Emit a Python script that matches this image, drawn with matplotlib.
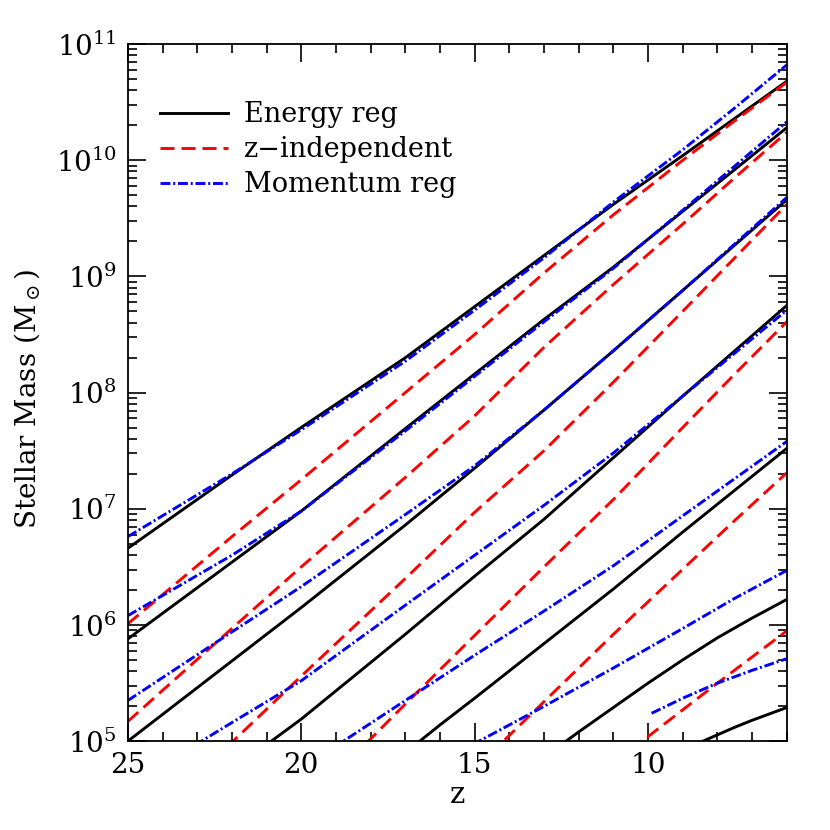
import numpy as np
import matplotlib
matplotlib.use("Agg")
import matplotlib.pyplot as plt
from matplotlib.ticker import (LogLocator, LogFormatterMathtext, MultipleLocator,
                               NullFormatter, FixedLocator)

plt.rcParams['font.family'] = ['DejaVu Serif']
plt.rcParams['mathtext.fontset'] = 'dejavuserif'

# redshift grid shared by curves that span the whole range
z_full = [25, 22, 20, 17, 15, 13, 11, 9, 7.5, 6]

# log10 stellar mass, Energy regulated (black solid)
energy_z = [z_full, z_full, z_full,
            [22, 21, 20, 17, 15, 13, 11, 9, 7.5, 6],
            [17, 16, 15, 13, 11, 9, 7.5, 6],
            [13, 12, 11, 10, 9, 8, 7, 6],
            [9, 8.42, 7.5, 7, 6]]
energy_logm = [[6.66, 7.29, 7.70, 8.30, 8.74, 9.18, 9.62, 10.04, 10.36, 10.68],
               [5.88, 6.54, 6.98, 7.69, 8.16, 8.63, 9.08, 9.56, 9.92, 10.28],
               [5.00, 5.69, 6.15, 6.86, 7.35, 7.85, 8.36, 8.88, 9.27, 9.66],
               [4.73, 4.97, 5.19, 5.92, 6.42, 6.91, 7.44, 7.97, 8.36, 8.75],
               [4.90, 5.14, 5.37, 5.84, 6.31, 6.80, 7.16, 7.52],
               [4.86, 5.08, 5.29, 5.50, 5.70, 5.89, 6.06, 6.22],
               [4.91, 5.00, 5.12, 5.18, 5.29]]

# z-independent (red dashed)
zind_z = [z_full, z_full,
          [23, 22, 20, 17, 15, 13, 11, 9, 7.5, 6],
          [19, 18, 17, 15, 13, 11, 9, 7.5, 6],
          [15, 14, 13, 11, 9, 7.5, 6],
          [11, 10, 8, 6]]
zind_logm = [[6.01, 6.76, 7.25, 8.00, 8.50, 9.03, 9.53, 10.00, 10.34, 10.67],
             [5.17, 5.97, 6.50, 7.27, 7.80, 8.39, 8.93, 9.45, 9.85, 10.24],
             [4.70, 4.99, 5.56, 6.40, 6.97, 7.50, 8.09, 8.70, 9.16, 9.62],
             [4.73, 5.02, 5.32, 5.91, 6.50, 7.08, 7.70, 8.16, 8.61],
             [4.76, 5.05, 5.34, 5.92, 6.48, 6.90, 7.31],
             [4.82, 5.04, 5.50, 5.95]]

# Momentum regulated (blue dash-dot)
mom_z = [z_full, z_full, z_full,
         [23.5, 22.88, 22, 20, 17, 15, 13, 11, 9, 7.5, 6],
         [19.5, 17, 15, 13, 11, 9, 7.5, 6],
         [15.5, 15, 14, 13, 11, 9, 7.5, 6],
         [9.9, 9, 8, 7, 6]]
mom_logm = [[6.76, 7.30, 7.68, 8.27, 8.71, 9.16, 9.64, 10.09, 10.45, 10.82],
            [6.08, 6.60, 6.98, 7.67, 8.14, 8.61, 9.07, 9.57, 9.95, 10.33],
            [5.35, 5.94, 6.33, 6.95, 7.37, 7.85, 8.36, 8.88, 9.28, 9.68],
            [4.89, 5.00, 5.16, 5.52, 6.17, 6.60, 7.03, 7.48, 7.97, 8.34, 8.71],
            [4.86, 5.35, 5.74, 6.12, 6.51, 6.94, 7.26, 7.58],
            [4.90, 4.98, 5.14, 5.30, 5.63, 5.97, 6.23, 6.47],
            [5.24, 5.37, 5.50, 5.61, 5.71]]

y_ticks = [1e5, 1e6, 1e7, 1e8, 1e9, 1e10, 1e11]
x_ticks = [25, 20, 15, 10]

fig = plt.figure(figsize=(8.3, 8.3), dpi=100)
ax = fig.add_axes([0.154, 0.107, 0.794, 0.840])

lw = 2.1
for i, (zz, mm) in enumerate(zip(energy_z, energy_logm)):
    ax.plot(zz, 10 ** np.array(mm), color='black', lw=lw,
            label='Energy reg' if i == 0 else None)
for i, (zz, mm) in enumerate(zip(zind_z, zind_logm)):
    ax.plot(zz, 10 ** np.array(mm), color='#ff0000', lw=lw, dashes=(4.8, 2.4),
            label='z\u2212independent' if i == 0 else None)
for i, (zz, mm) in enumerate(zip(mom_z, mom_logm)):
    ax.plot(zz, 10 ** np.array(mm), color='#0000ff', lw=lw, dashes=(3.4, 0.95, 0.7, 0.95),
            label='Momentum reg' if i == 0 else None)

ax.set_yscale('log')
ax.set_xlim(25, 6)
ax.set_ylim(1e5, 1e11)

ax.xaxis.set_major_locator(FixedLocator(x_ticks))
ax.xaxis.set_minor_locator(MultipleLocator(1))
ax.yaxis.set_major_locator(FixedLocator(y_ticks))
ax.yaxis.set_minor_locator(LogLocator(base=10, subs=np.arange(2, 10), numticks=20))
ax.yaxis.set_major_formatter(LogFormatterMathtext())
ax.yaxis.set_minor_formatter(NullFormatter())
ax.xaxis.set_minor_formatter(NullFormatter())

ax.tick_params(which='both', direction='in', top=True, right=True, width=1.2, labelsize=20, pad=8)
ax.tick_params(which='major', length=13)
ax.tick_params(which='minor', length=6.5)
for s in ax.spines.values():
    s.set_linewidth(1.3)

ax.set_xlabel('z', fontsize=21, labelpad=1)
ax.set_ylabel(r'Stellar Mass (M$_\odot$)', fontsize=20, labelpad=10)
ax.yaxis.set_label_coords(-0.13, 0.49)

leg = ax.legend(loc='upper left', bbox_to_anchor=(0.012, 0.953), frameon=False, fontsize=19.5,
                handlelength=2.5, handletextpad=0.6, labelspacing=0.3)

fig.savefig('out.png', dpi=100)
